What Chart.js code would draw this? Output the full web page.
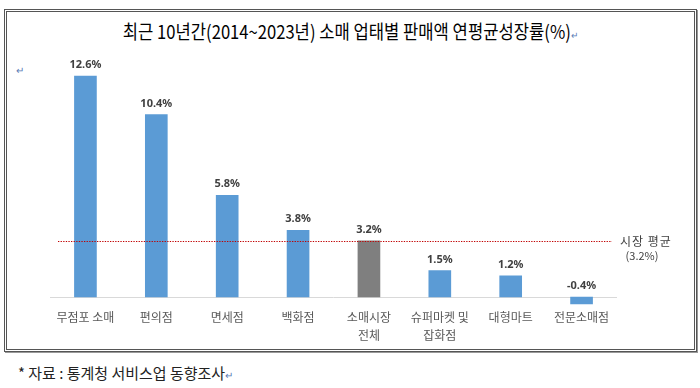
<!DOCTYPE html>
<html>
<head>
<meta charset="utf-8">
<script src="https://cdn.jsdelivr.net/npm/chart.js@4.4.1/dist/chart.umd.min.js"></script>
<style>
  html, body { margin: 0; padding: 0; background: #fff; }
  body { width: 700px; height: 388px; position: relative; overflow: hidden; font-family: "Noto Sans CJK KR", "Noto Sans", sans-serif; }
  #box { position: absolute; left: 4px; top: 9px; width: 687px; height: 337px; border: 3px double #555; box-shadow: 1px 1px 0 #999; }
  #title { position: absolute; left: 0; top: 17px; width: 700px; text-align: center; font-size: 19px; font-weight: 400; color: #000; white-space: nowrap; }
  #title span, #note span { display: inline-block; }
  #note { position: absolute; left: 18px; top: 362px; font-size: 15px; color: #222; white-space: nowrap; transform-origin: left center; }
  .ret { color: #5a7bb5; font-size: 10px; font-weight: 400; }
  #mark { position: absolute; left: 16px; top: 62px; }
  canvas { position: absolute; left: 0; top: 0; }
</style>
</head>
<body>
<div id="box"></div>
<div id="title"><span id="titleText">최근 10년간(2014~2023년) 소매 업태별 판매액 연평균성장률(%)<span class="ret">↵</span></span></div>
<div id="mark" class="ret">↵</div>
<div id="note"><span id="noteText">* 자료 : 통계청 서비스업 동향조사<span class="ret">↵</span></span></div>
<canvas id="c" width="700" height="388"></canvas>
<script>
const categories = [["무점포 소매"], ["편의점"], ["면세점"], ["백화점"], ["소매시장", "전체"], ["슈퍼마켓 및", "잡화점"], ["대형마트"], ["전문소매점"]];
const growthValues = [12.6, 10.4, 5.8, 3.8, 3.2, 1.5, 1.2, -0.4];
const marketAverage = 3.2;
const averageLabel = ["시장 평균", "(3.2%)"];
const barColors = ["#5b9bd5", "#5b9bd5", "#5b9bd5", "#5b9bd5", "#7f7f7f", "#5b9bd5", "#5b9bd5", "#5b9bd5"];

// fit title & note widths
(function(){
  const t = document.getElementById('titleText');
  const s = 455 / t.getBoundingClientRect().width;
  t.style.transform = 'scaleX(' + s + ')';
  const n = document.getElementById('noteText');
  const s2 = 215 / n.getBoundingClientRect().width;
  n.style.transformOrigin = 'left center';
  n.style.transform = 'scaleX(' + s2 + ')';
})();

const overlay = {
  id: 'overlay',
  beforeDatasetsDraw(chart) {
    const {ctx, chartArea, scales} = chart;
    const y0 = scales.y.getPixelForValue(0);
    ctx.save();
    ctx.strokeStyle = '#d9d9d9';
    ctx.lineWidth = 1;
    ctx.beginPath();
    ctx.moveTo(chartArea.left, Math.round(y0) + 0.5);
    ctx.lineTo(chartArea.right, Math.round(y0) + 0.5);
    ctx.stroke();
    ctx.restore();
  },
  afterDatasetsDraw(chart) {
    const {ctx, chartArea, scales} = chart;
    const meta = chart.getDatasetMeta(0);
    ctx.save();
    // average line
    const ya = Math.round(scales.y.getPixelForValue(marketAverage)) + 0.5;
    ctx.strokeStyle = '#c00000';
    ctx.lineWidth = 1.2;
    ctx.setLineDash([1.3, 1.3]);
    ctx.beginPath();
    ctx.moveTo(chartArea.left + 8, ya);
    ctx.lineTo(chartArea.right - 5, ya);
    ctx.stroke();
    ctx.setLineDash([]);
    ctx.fillStyle = '#404040';
    ctx.font = '12px "Noto Sans CJK KR"';
    ctx.textBaseline = 'middle';
    ctx.textAlign = 'left';
    ctx.letterSpacing = '1px';
    ctx.fillText(averageLabel[0], chartArea.right + 3, ya);
    ctx.letterSpacing = '0px';
    ctx.textAlign = 'center';
    ctx.font = '11px "Noto Sans CJK KR"';
    ctx.fillText(averageLabel[1], chartArea.right + 25, ya + 14);
    // data labels
    ctx.font = 'bold 11px "Noto Sans", sans-serif';
    ctx.fillStyle = '#404040';
    ctx.textAlign = 'center';
    ctx.textBaseline = 'middle';
    const y0 = scales.y.getPixelForValue(0);
    meta.data.forEach((bar, i) => {
      const v = growthValues[i];
      const top = v >= 0 ? bar.y : y0;
      ctx.fillText(v.toFixed(1) + '%', bar.x, top - 11);
    });
    ctx.restore();
  }
};

new Chart(document.getElementById('c'), {
  type: 'bar',
  data: {
    labels: categories,
    datasets: [{
      data: growthValues,
      backgroundColor: barColors,
      borderWidth: 0,
      barThickness: 22
    }]
  },
  options: {
    responsive: false,
    animation: false,
    layout: { padding: { left: 50, right: 83, top: 51.4, bottom: 0 } },
    plugins: { legend: { display: false }, tooltip: { enabled: false } },
    scales: {
      x: {
        grid: { display: false, drawTicks: false },
        border: { display: false },
        ticks: {
          color: '#595959',
          font: { family: '"Noto Sans CJK KR"', size: 12, lineHeight: 1.5 },
          maxRotation: 0, minRotation: 0, autoSkip: false, padding: 1
        },
        afterFit(scale) { scale.height = 80.5; }
      },
      y: {
        display: false,
        min: -0.6,
        max: 14
      }
    }
  },
  plugins: [overlay]
});
</script>
</body>
</html>
